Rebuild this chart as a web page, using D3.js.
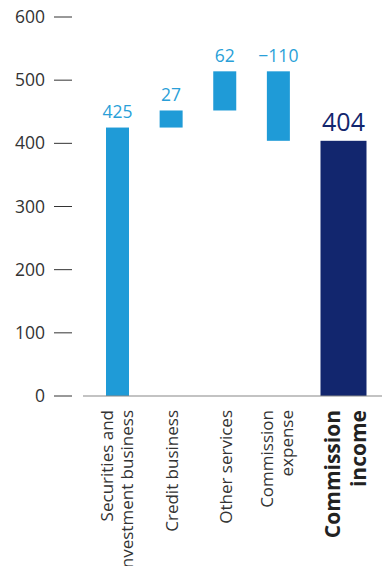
<!DOCTYPE html>
<html lang="en">
<head>
  <meta charset="UTF-8">
  <title>Commission income waterfall</title>
  <script src="https://d3js.org/d3.v7.min.js"></script>
  <style>
    body { margin: 0; background: #fff; }
    text { font-family: "Open Sans", "Noto Sans", sans-serif; }
    .tick-label { fill: #333; font-size: 17.5px; }
    .tick-line { stroke: #333; stroke-width: 1px; }
    .baseline { stroke: #888; stroke-width: 1.2px; }
    .cat-label { fill: #333; font-size: 17px; }
    .cat-label.total { font-weight: bold; font-size: 21px; fill: #222; }
  </style>
</head>
<body>
  <script>
    // Data
    const categories = ["Securities and investment business", "Credit business", "Other services", "Commission expense", "Commission income"];
    const labelLines = [["Securities and", "Investment business"], ["Credit business"], ["Other services"], ["Commission", "expense"], ["Commission", "income"]];
    const changes = [425, 27, 62, -110];
    const total = 404;
    const yTicks = [0, 100, 200, 300, 400, 500, 600];

    const width = 382;
    const height = 566;
    const light = "#1f9bd7";
    const dark = "#12266e";

    const svg = d3.select("body").append("svg")
      .attr("width", width)
      .attr("height", height);

    // Build waterfall segments
    let running = 0;
    const bars = changes.map((v, i) => {
      const start = running;
      running += v;
      return { cat: categories[i], lo: Math.min(start, running), hi: Math.max(start, running), value: v, total: false };
    });
    bars.push({ cat: categories[4], lo: 0, hi: total, value: total, total: true });

    const y = d3.scaleLinear().domain([0, 600]).range([396, 17]);
    const x = d3.scalePoint().domain(categories).range([117.5, 332]);
    const barW = 23;
    const mid = d => x(d.cat) - barW / 2 + (d.total ? barW : barW / 2);

    // Y axis ticks
    const ticks = svg.append("g");
    ticks.selectAll("line").data(yTicks).enter().append("line")
      .attr("class", "tick-line")
      .attr("x1", 54).attr("x2", 72)
      .attr("y1", d => y(d)).attr("y2", d => y(d));
    ticks.selectAll("text").data(yTicks).enter().append("text")
      .attr("class", "tick-label")
      .attr("x", 45)
      .attr("y", d => y(d))
      .attr("dy", "0.35em")
      .attr("text-anchor", "end")
      .text(d => d);

    // Bars
    svg.selectAll(".bar").data(bars).enter().append("rect")
      .attr("class", "bar")
      .attr("x", d => x(d.cat) - barW / 2)
      .attr("width", d => d.total ? barW * 2 : barW)
      .attr("y", d => y(d.hi))
      .attr("height", d => y(d.lo) - y(d.hi))
      .attr("fill", d => d.total ? dark : light);

    // Baseline
    svg.append("line")
      .attr("class", "baseline")
      .attr("x1", 83).attr("x2", width)
      .attr("y1", y(0)).attr("y2", y(0));

    // Value labels
    svg.selectAll(".val").data(bars).enter().append("text")
      .attr("class", "val")
      .attr("x", mid)
      .attr("y", d => y(d.hi) - 9.5)
      .attr("text-anchor", "middle")
      .attr("fill", d => d.total ? dark : "#2a9fd8")
      .attr("font-size", d => d.total ? "25px" : "17.5px")
      .text(d => d.value < 0 ? "\u2212" + Math.abs(d.value) : d.value);

    // Rotated category labels
    const catG = svg.selectAll(".cat").data(bars).enter().append("g")
      .attr("class", "cat")
      .attr("transform", d => `translate(${mid(d)},410) rotate(-90)`);

    catG.each(function (d, i) {
      const lines = labelLines[i];
      const lh = d.total ? 26 : 20;
      const shift = d.total ? 9.5 : (lines.length === 1 ? 7 : 5);
      const t = d3.select(this).append("text")
        .attr("class", d.total ? "cat-label total" : "cat-label")
        .attr("text-anchor", "end");
      lines.forEach((ln, j) => {
        t.append("tspan")
          .attr("x", 0)
          .attr("y", shift + (j - (lines.length - 1) / 2) * lh)
          .text(ln);
      });
    });
  </script>
</body>
</html>
